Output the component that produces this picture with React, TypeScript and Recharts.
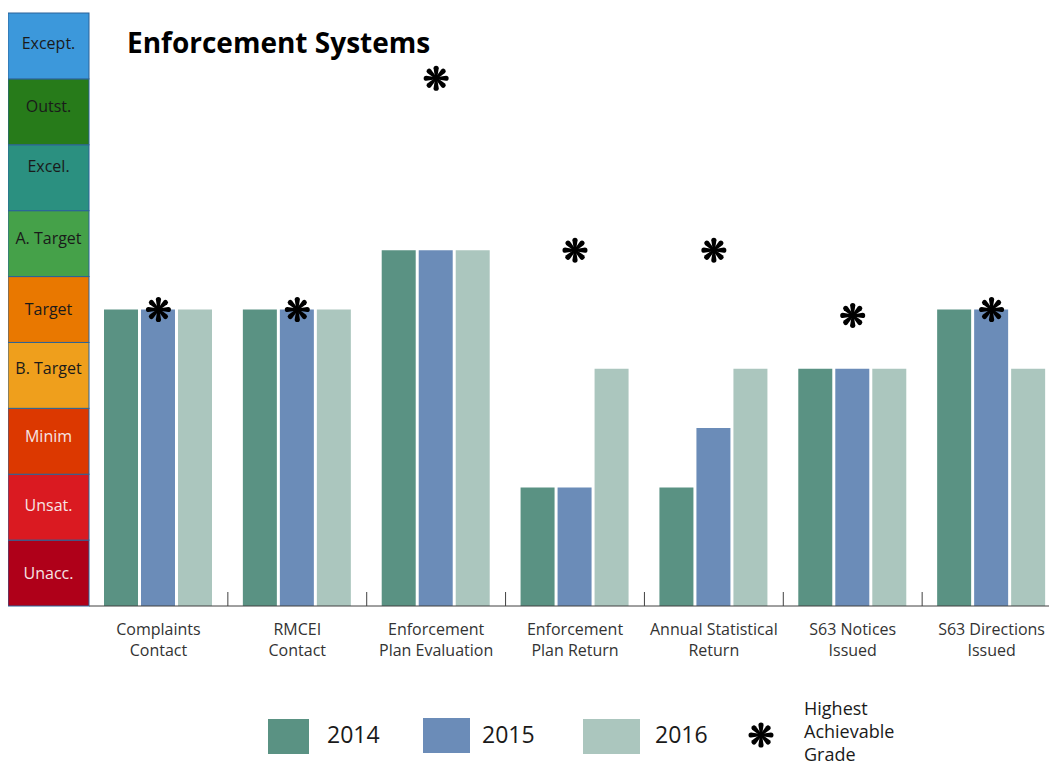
// Enforcement Systems: grouped bars per year against a graded scale, with highest achievable grade markers.
import React from "react";
import { ComposedChart, Bar, Scatter, XAxis, YAxis, Legend } from "recharts";

const CATEGORY_LINES = [
  ["Complaints", "Contact"],
  ["RMCEI", "Contact"],
  ["Enforcement", "Plan Evaluation"],
  ["Enforcement", "Plan Return"],
  ["Annual Statistical", "Return"],
  ["S63 Notices", "Issued"],
  ["S63 Directions", "Issued"],
];
const YEARS = ["2014", "2015", "2016"];
const VALUES_2014 = [5, 5, 6, 2, 2, 4, 5];
const VALUES_2015 = [5, 5, 6, 2, 3, 4, 5];
const VALUES_2016 = [5, 5, 6, 4, 4, 4, 4];
const HIGHEST_GRADE = [5, 5, 8.9, 6, 6, 4.9, 5];

// grade bands, bottom to top
const GRADES = ["Unacc.", "Unsat.", "Minim", "B. Target", "Target", "A. Target", "Excel.", "Outst.", "Except."];
const GRADE_COLORS = ["#AF0019", "#DA1A21", "#DC3800", "#EF9F1C", "#E97800", "#45A149", "#2B9080", "#277B1A", "#3C98DB"];
const GRADE_TEXT = ["#F6E4E4", "#F6E4E4", "#F6E4E4", "#1a1a1a", "#1a1a1a", "#1a1a1a", "#1a1a1a", "#1a1a1a", "#1a1a1a"];
// labels don't sit exactly at band centre in the original
const GRADE_LABEL_DY = [0, -2, -5, -7, 0, -5, -11, -6, -3];
const Y_MAX = 10;

const YEAR_COLORS = ["#5A9283", "#6B8CB8", "#ABC6BE"];

const FONT = '"Open Sans", "Noto Sans", sans-serif';
const CHART_W = 1053;
const CHART_H = 759;
const MARGIN = { top: 5, right: 0, bottom: 0, left: 0 };
const Y_W = 81;
const X_H = 161;
const PLOT_H = CHART_H - MARGIN.top - MARGIN.bottom - X_H;
const STEP = (CHART_W - Y_W - MARGIN.right) / CATEGORY_LINES.length;
const BAND_H = PLOT_H / GRADES.length;
const BAND_TICKS = GRADES.map((_, i) => ((i + 0.5) * Y_MAX) / GRADES.length);

const data = CATEGORY_LINES.map((lines, i) => ({
  name: lines.join(" "),
  v2014: VALUES_2014[i],
  v2015: VALUES_2015[i],
  v2016: VALUES_2016[i],
  star: HIGHEST_GRADE[i],
}));

const Asterisk = ({ cx, cy, r = 12.5 }: { cx: number; cy: number; r?: number }) => (
  <g transform={`translate(${cx},${cy})`} fill="#000">
    {[0, 45, 90, 135, 180, 225, 270, 315].map((a) => (
      <path
        key={a}
        transform={`rotate(${a})`}
        d={`M -1 0 L -2.6 ${-(r - 2.6)} A 2.6 2.6 0 0 1 2.6 ${-(r - 2.6)} L 1 0 Z`}
      />
    ))}
    <circle r={2.5} />
  </g>
);

const BandTick = (props: any) => {
  const { y, index } = props;
  return (
    <g>
      <rect
        x={0}
        y={y - BAND_H / 2}
        width={Y_W}
        height={BAND_H}
        fill={GRADE_COLORS[index]}
        stroke="#2B6399"
        strokeWidth={1}
      />
      <text
        x={Y_W / 2}
        y={y + 5.7 + GRADE_LABEL_DY[index]}
        textAnchor="middle"
        fontSize={16}
        fontFamily={FONT}
        fill={GRADE_TEXT[index]}
      >
        {GRADES[index]}
      </text>
    </g>
  );
};

const XTick = (props: any) => {
  const { x, y, payload, index } = props;
  const lines = CATEGORY_LINES[index] ?? [payload.value];
  return (
    <g>
      {index < CATEGORY_LINES.length - 1 && (
        <line x1={x + STEP / 2} x2={x + STEP / 2} y1={y} y2={y - 14} stroke="#404040" strokeWidth={1} />
      )}
      <text x={x} y={y + 28.5} textAnchor="middle" fontSize={16} fontFamily={FONT} fill="#333">
        {lines.map((l: string, i: number) => (
          <tspan key={i} x={x} dy={i === 0 ? 0 : 21}>
            {l}
          </tspan>
        ))}
      </text>
    </g>
  );
};

const SQ_X = [260, 415, 575];
const SQ_Y = [31, 30, 31];
const SQ_W = [41, 47, 57];
const TXT_X = [319, 474, 647];

const LegendContent = () => (
  <div style={{ position: "relative", width: CHART_W, height: 79, fontFamily: FONT, color: "#1a1a1a" }}>
    {YEARS.map((yr, i) => (
      <React.Fragment key={yr}>
        <div
          style={{
            position: "absolute",
            left: SQ_X[i],
            top: SQ_Y[i],
            width: SQ_W[i],
            height: 35,
            background: YEAR_COLORS[i],
          }}
        />
        <div style={{ position: "absolute", left: TXT_X[i], top: 35, fontSize: 23, lineHeight: "23px" }}>{yr}</div>
      </React.Fragment>
    ))}
    <svg style={{ position: "absolute", left: 739, top: 33 }} width={28} height={28}>
      <Asterisk cx={14} cy={14} />
    </svg>
    <div style={{ position: "absolute", left: 796, top: 9, fontSize: 18, lineHeight: "23px" }}>
      Highest
      <br />
      Achievable
      <br />
      Grade
    </div>
  </div>
);

export default function App() {
  return (
    <div
      style={{
        position: "fixed",
        left: 0,
        top: 0,
        width: 1049,
        height: 767,
        overflow: "hidden",
        background: "#fff",
        fontFamily: FONT,
      }}
    >
      <div style={{ position: "absolute", left: 8, top: 8 }}>
        <ComposedChart width={CHART_W} height={CHART_H} data={data} margin={MARGIN} barSize={34} barGap={3}>
          <XAxis
            dataKey="name"
            height={X_H}
            interval={0}
            tickLine={false}
            tickSize={0}
            tickMargin={0}
            axisLine={{ stroke: "#404040" }}
            tick={(p: any) => <XTick {...p} />}
          />
          <YAxis
            type="number"
            domain={[0, Y_MAX]}
            width={Y_W}
            ticks={BAND_TICKS}
            interval={0}
            axisLine={false}
            tickLine={false}
            tick={(p: any) => <BandTick {...p} />}
          />
          <Legend
            verticalAlign="middle"
            align="center"
            layout="horizontal"
            wrapperStyle={{ top: 680, left: 0, width: CHART_W, height: 79 }}
            content={() => <LegendContent />}
          />
          <Bar dataKey="v2014" name={YEARS[0]} fill={YEAR_COLORS[0]} isAnimationActive={false} />
          <Bar dataKey="v2015" name={YEARS[1]} fill={YEAR_COLORS[1]} isAnimationActive={false} />
          <Bar dataKey="v2016" name={YEARS[2]} fill={YEAR_COLORS[2]} isAnimationActive={false} />
          <Scatter
            dataKey="star"
            isAnimationActive={false}
            shape={(p: any) => <Asterisk cx={p.cx} cy={p.cy} />}
          />
        </ComposedChart>
      </div>
      <div
        style={{
          position: "absolute",
          left: 127,
          top: 28,
          fontSize: 28,
          lineHeight: "28px",
          fontWeight: 700,
          color: "#000",
          whiteSpace: "nowrap",
        }}
      >
        Enforcement Systems
      </div>
    </div>
  );
}
